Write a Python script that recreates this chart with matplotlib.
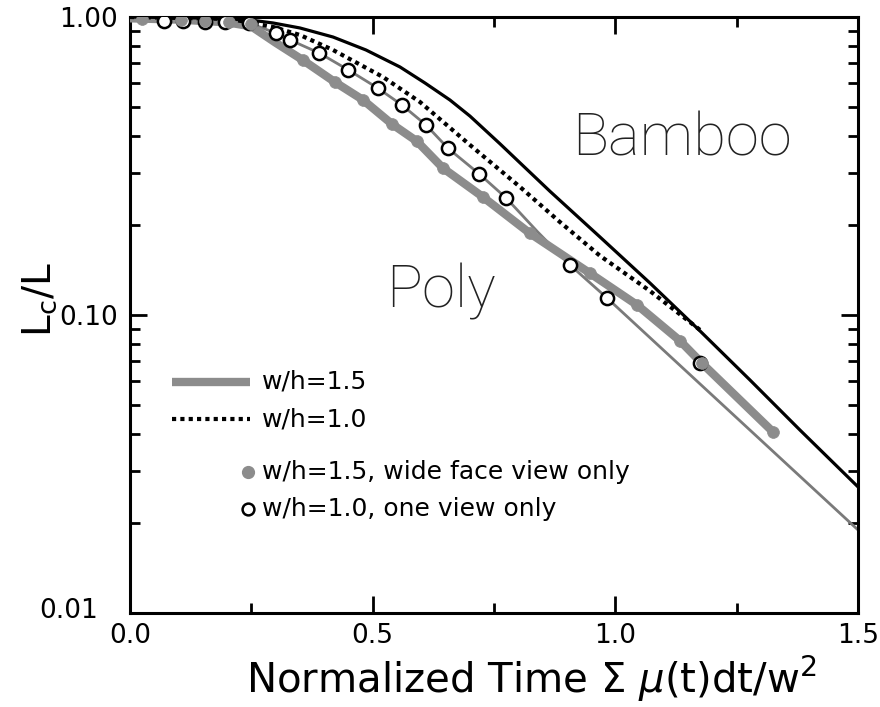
import matplotlib
matplotlib.use("Agg")
import matplotlib.pyplot as plt
from matplotlib.ticker import FixedLocator, NullFormatter, LogLocator
from matplotlib.transforms import ScaledTranslation

# w/h = 1.5 simulation (thick grey curve)
wh15_x = [0.0, 0.10, 0.20, 0.25, 0.30, 0.356, 0.422, 0.480, 0.540, 0.591, 0.645,
          0.727, 0.824, 0.948, 1.045, 1.133, 1.178, 1.325]
wh15_y = [0.99, 0.98, 0.96, 0.93, 0.82, 0.717, 0.605, 0.527, 0.437, 0.383, 0.311,
          0.249, 0.188, 0.138, 0.108, 0.082, 0.069, 0.0405]

# w/h = 1.5, wide face view only (grey dots)
wide_x = [0.025, 0.105, 0.155, 0.205, 0.25, 0.356, 0.422, 0.480, 0.540, 0.591,
          0.645, 0.727, 0.824, 0.948, 1.045, 1.133, 1.178, 1.325]
wide_y = [0.985, 0.975, 0.97, 0.96, 0.945, 0.717, 0.605, 0.527, 0.437, 0.383,
          0.311, 0.249, 0.188, 0.138, 0.108, 0.082, 0.069, 0.0405]

# w/h = 1.0, one view only (open circles)
one_x = [0.07, 0.11, 0.155, 0.195, 0.245, 0.30, 0.33, 0.39, 0.45, 0.51, 0.56,
         0.61, 0.655, 0.72, 0.775, 0.907, 0.983, 1.174]
one_y = [0.97, 0.97, 0.965, 0.96, 0.955, 0.884, 0.837, 0.757, 0.664, 0.578, 0.507,
         0.434, 0.363, 0.297, 0.247, 0.147, 0.114, 0.069]

# thin curve through the single-view points
thin_x = [0.07, 0.11, 0.155, 0.195, 0.245, 0.30, 0.33, 0.39, 0.45, 0.51, 0.56,
          0.61, 0.655, 0.72, 0.775, 0.84, 0.907, 0.983, 1.5]
thin_y = [0.97, 0.97, 0.965, 0.96, 0.955, 0.884, 0.837, 0.757, 0.664, 0.578, 0.507,
          0.434, 0.363, 0.297, 0.247, 0.190, 0.147, 0.114, 0.019]

# w/h = 1.0 simulation (dotted curve)
wh10_x = [0.0, 0.206, 0.2946, 0.3503, 0.4183, 0.5213, 0.5975, 0.7005, 0.8036,
          0.886, 0.9684, 1.0714, 1.1745]
wh10_y = [1.0, 0.985, 0.926, 0.870, 0.775, 0.629, 0.5185, 0.372, 0.269,
          0.205, 0.158, 0.1204, 0.0891]

# solid black curve
solid_x = [0.0, 0.1442, 0.2473, 0.2946, 0.3503, 0.4183, 0.4863, 0.5563, 0.6078,
           0.6593, 0.7005, 0.7624, 0.8036, 0.8654, 0.9684, 1.0714, 1.1745,
           1.2775, 1.3805, 1.5]
solid_y = [1.0, 0.9923, 0.9771, 0.955, 0.9186, 0.8567, 0.7749, 0.6797, 0.6005,
           0.5265, 0.4650, 0.3753, 0.324, 0.260, 0.1827, 0.1280, 0.0884,
           0.0605, 0.0411, 0.0265]

x_ticks = [0.0, 0.5, 1.0, 1.5]
x_ticklabels = ["0.0", "0.5", "1.0", "1.5"]
y_ticks = [0.01, 0.1, 1.0]
y_ticklabels = ["0.01", "0.10", "1.00"]

legend_labels = ["w/h=1.5", "w/h=1.0", "w/h=1.5, wide face view only",
                 "w/h=1.0, one view only"]

GREY = "#8c8c8c"
THIN_GREY = "#7a7a7a"

plt.rcParams["font.family"] = ["DejaVu Sans"]

fig = plt.figure(figsize=(8.8, 7.07), dpi=100)
ax = fig.add_axes([130 / 880, 94 / 707, 728 / 880, 596 / 707])

ax.set_yscale("log")
ax.set_xlim(0, 1.5)
ax.set_ylim(0.01, 1.0)

ax.plot(thin_x, thin_y, color=THIN_GREY, lw=2.0, zorder=2, solid_capstyle="butt")
ax.plot(wh15_x, wh15_y, color=GREY, lw=6.0, zorder=3, solid_capstyle="round",
        solid_joinstyle="round")
ax.plot(solid_x, solid_y, color="black", lw=2.3, zorder=4, solid_joinstyle="round")
ax.plot(wh10_x, wh10_y, color="black", lw=3.0, dashes=(1.0, 1.0),
        dash_capstyle="butt", zorder=5)
ax.plot(one_x, one_y, ls="none", marker="o", ms=9.5, mfc="white", mec="black",
        mew=1.8, zorder=6)
ax.plot(wide_x, wide_y, ls="none", marker="o", ms=8.5, mfc=GREY, mec=GREY,
        mew=0.5, zorder=7)

# region annotations
ax.text(1.137, 0.344, "Bamboo", fontsize=43, ha="center", va="baseline",
        family=["Roboto", "DejaVu Sans"], fontweight="light", color="#222222")
ax.text(0.641, 0.106, "Poly", fontsize=43, ha="center", va="baseline",
        family=["Roboto", "DejaVu Sans"], fontweight="light", color="#222222")

# legend
tr = ax.transAxes
rows_y = [0.3876, 0.3255, 0.2366, 0.1745]
ax.plot([0.058, 0.165], [rows_y[0]] * 2, transform=tr, color=GREY, lw=6.0,
        solid_capstyle="butt")
ax.plot([0.058, 0.165], [rows_y[1]] * 2, transform=tr, color="black", lw=3.0,
        dashes=(1.0, 1.0), dash_capstyle="butt")
ax.plot([0.162], [rows_y[2]], transform=tr, marker="o", ms=8.5, mfc=GREY,
        mec=GREY, ls="none")
ax.plot([0.162], [rows_y[3]], transform=tr, marker="o", ms=8.5, mfc="white",
        mec="black", mew=1.8, ls="none")
for yy, lab in zip(rows_y, legend_labels):
    ax.text(0.181, yy, lab, transform=tr, fontsize=18, ha="left", va="center")

# axes styling
for s in ax.spines.values():
    s.set_linewidth(2.2)

ax.xaxis.set_major_locator(FixedLocator(x_ticks))
ax.set_xticklabels(x_ticklabels)
ax.xaxis.set_minor_locator(FixedLocator([0.25, 0.75, 1.25]))
ax.yaxis.set_major_locator(FixedLocator(y_ticks))
ax.set_yticklabels(y_ticklabels)
ax.yaxis.set_minor_locator(LogLocator(base=10, subs=range(2, 10)))
ax.yaxis.set_minor_formatter(NullFormatter())

ax.tick_params(which="both", direction="in", top=True, right=True, width=2.0)
ax.tick_params(which="major", length=12, labelsize=19)
ax.tick_params(which="minor", length=7)
ax.tick_params(axis="y", which="major", pad=9)
ax.tick_params(axis="x", which="major", pad=7)

# shift the lowest y label left so it clears the x origin label
for lab in ax.get_yticklabels():
    if lab.get_text() == "0.01":
        lab.set_transform(lab.get_transform()
                          + ScaledTranslation(-0.2, 0.05, fig.dpi_scale_trans))

ax.set_xlabel(r"Normalized Time $\Sigma$ $\mu$(t)dt/w$^2$", fontsize=29)
ax.xaxis.set_label_coords(0.551, -0.068)
ax.set_ylabel(r"L$_\mathregular{c}$/L", fontsize=28)
ax.yaxis.set_label_coords(-0.098, 0.525)

fig.savefig("out.png", dpi=100)
